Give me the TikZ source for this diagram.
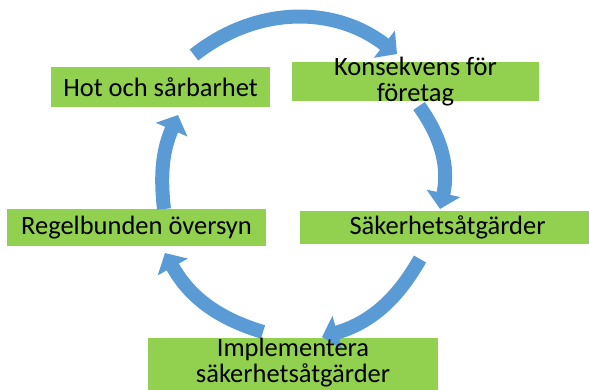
\documentclass[tikz,border=0pt]{standalone}
\usepackage{fontspec}
\setmainfont{Carlito}
\usetikzlibrary{arrows.meta}
\definecolor{cycG}{RGB}{146,208,80}
\definecolor{cycB}{RGB}{91,155,213}

\begin{document}
\begin{tikzpicture}[box/.style={fill=cycG,inner sep=0pt},
  lbl/.style={font=\fontsize{18.85}{18.9}\selectfont,align=center,inner sep=0pt},
  cyc/.style={cycB,line width=3.5mm,-{Triangle[width=8.4mm,length=4mm]}}]
\useasboundingbox (0,0) rectangle (14.725,9.725); \clip (0,0) rectangle (14.725,9.725);
\node[box,minimum width=5.475cm,minimum height=1cm] (hotbox) at (4.0125,7.55) {};
\node[box,minimum width=6.175cm,minimum height=0.975cm] (konbox) at (10.3875,7.6875) {};
\node[box,minimum width=6.475cm,minimum height=0.925cm] (regbox) at (3.4125,4.0375) {};
\node[box,minimum width=7.375cm,minimum height=0.825cm] (sakbox) at (11.1875,4.0375) {};
\node[box,minimum width=7.25cm,minimum height=1.6cm] (impbox) at (7.325,0.475) {};
% ends of the cycle arrows
\coordinate (t1) at (4.85,8.35);   \coordinate (h1) at (9.925,8.375);
\coordinate (t2) at (10.475,7.075); \coordinate (h2) at (11.0,4.5);
\coordinate (t3) at (10.5,3.25);   \coordinate (h3) at (8.05,1.3);
\coordinate (t4) at (6.575,1.425); \coordinate (h4) at (4.125,3.4);
\coordinate (t5) at (4.1,4.5);     \coordinate (h5) at (4.45,6.85);
\draw[cyc] (t1) to[bend left=38] (h1);
\draw[cyc] (t2) to[bend left=24] (h2);
\draw[cyc] (t3) to[bend left=22] (h3);
\draw[cyc] (t4) to[bend left=22] (h4);
\draw[cyc] (t5) to[bend left=15] (h5);
\node[lbl] (hot) at (hotbox) {Hot och sårbarhet};
\node[lbl] (kon) at (konbox) {Konsekvens för\\företag};
\node[lbl] (reg) at (regbox) {Regelbunden översyn};
\node[lbl] (sak) at (sakbox) {Säkerhetsåtgärder};
\node[lbl] (imp) at (7.325,0.66) {Implementera\\säkerhetsåtgärder};
\end{tikzpicture}
\end{document}
